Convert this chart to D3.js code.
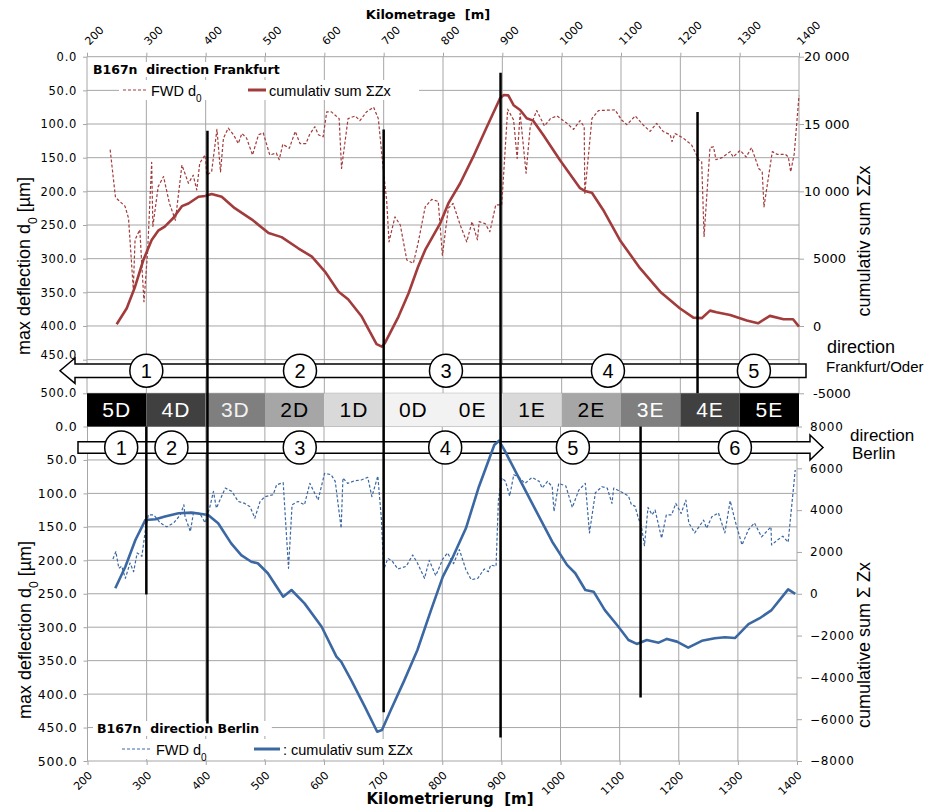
<!DOCTYPE html>
<html>
<head>
<meta charset="utf-8">
<script src="https://cdn.jsdelivr.net/npm/d3@7"></script>
<style>
body { margin: 0; background: #fff; }
text { font-family: "Liberation Sans", Arial, sans-serif; white-space: pre; }
.tick-lbl { font-family: "DejaVu Sans", sans-serif; }
.bold { font-family: "DejaVu Sans", sans-serif; font-weight: bold; }
</style>
</head>
<body>
<svg id="chart" width="939" height="808"></svg>
<script>
// ---- data ----
const kmTicks = d3.range(200, 1401, 100);
const deflTicks = d3.range(0, 501, 50);
const cumTicksFrankfurt = d3.range(-5000, 20001, 5000);
const cumTicksBerlin = d3.range(-8000, 8001, 2000);

const zones = ["5D","4D","3D","2D","1D","0D","0E","1E","2E","3E","4E","5E"];
const zoneStart = [200,300,400,500,600,700,800,900,1000,1100,1200,1300];
const zoneFill = ["#000","#404040","#7f7f7f","#a6a6a6","#d9d9d9","#f2f2f2","#f2f2f2","#d9d9d9","#a6a6a6","#7f7f7f","#404040","#000"];
const zoneText = ["#fff","#fff","#f2f2f2","#000","#000","#000","#000","#000","#000","#fff","#fff","#fff"];

// homogeneous sections (circle numbers at km)
const sectionsFrankfurt = [[1,300],[2,559],[3,805],[4,1078],[5,1324]];
const sectionsBerlin = [[1,257],[2,342],[3,559],[4,805],[5,1021],[6,1295]];

// section boundaries: km, top end (d0 in upper chart or null), bottom end (d0 in lower chart or null)
const boundaries = [[403,110,444],[700,108,427],[897,24,465],[1229,82,null],[300,null,251],[1133,null,405]];

// upper chart: direction Frankfurt
const fwdFrankfurt = [[239,138],[248,209],[264,222],[270,240],[278,345],[281,272],[289,257],[296,364],[302,292],[309,157],[311,252],[320,193],[329,178],[339,218],[349,243],[360,161],[371,188],[379,176],[385,198],[390,158],[399,146],[402,176],[410,171],[419,108],[425,171],[430,121],[438,106],[447,116],[455,129],[461,114],[469,121],[479,146],[489,116],[497,113],[508,146],[519,143],[524,153],[530,130],[541,136],[551,111],[559,129],[569,129],[575,116],[584,104],[590,116],[598,119],[604,82],[612,82],[625,92],[629,166],[640,92],[652,88],[660,95],[671,82],[683,75],[691,92],[700,173],[705,213],[709,275],[719,238],[728,250],[739,302],[750,307],[758,277],[770,223],[781,212],[792,215],[799,295],[809,225],[817,218],[829,250],[840,275],[849,245],[858,272],[861,245],[871,248],[879,260],[889,220],[899,220],[909,78],[919,94],[925,151],[930,84],[940,173],[947,104],[958,80],[971,103],[981,92],[992,88],[1009,99],[1020,108],[1031,95],[1038,104],[1039,203],[1051,92],[1062,80],[1090,79],[1101,94],[1110,101],[1124,88],[1137,101],[1149,111],[1160,99],[1171,111],[1183,116],[1186,126],[1191,114],[1205,121],[1219,131],[1231,153],[1236,156],[1240,267],[1250,135],[1256,134],[1260,153],[1270,150],[1284,141],[1289,149],[1301,139],[1311,149],[1320,135],[1332,166],[1338,171],[1341,223],[1355,141],[1363,145],[1377,145],[1382,149],[1386,171],[1392,144],[1400,58]];
const cumFrankfurt = [[250,130],[267,1320],[281,2920],[295,4900],[309,6390],[320,7080],[331,7380],[345,8000],[360,8900],[371,9100],[388,9600],[399,9650],[410,9800],[427,9600],[449,8750],[478,7900],[506,6900],[528,6600],[556,5770],[579,5150],[601,4040],[624,2550],[640,1990],[663,700],[688,-1350],[697,-1530],[702,-1280],[725,700],[742,2430],[758,4400],[770,5650],[795,7600],[809,9100],[829,10600],[851,12575],[874,14800],[896,16900],[902,17150],[910,17130],[919,16400],[930,16040],[941,15430],[952,15250],[969,14190],[997,12330],[1031,10230],[1039,10030],[1051,9900],[1070,8620],[1098,6390],[1132,4290],[1166,2550],[1199,1320],[1222,620],[1236,580],[1250,1140],[1261,1020],[1284,820],[1312,400],[1331,200],[1351,750],[1374,500],[1390,500],[1400,-50]];

// lower chart: direction Berlin
const fwdBerlin = [[243,198],[248,187],[253,212],[258,209],[264,227],[272,204],[278,217],[284,189],[292,194],[298,154],[303,132],[312,132],[323,144],[334,150],[346,144],[357,132],[363,117],[365,135],[374,157],[379,130],[390,130],[399,144],[407,120],[413,97],[418,122],[433,92],[444,97],[455,112],[466,115],[475,120],[483,137],[492,112],[500,105],[514,102],[520,87],[531,84],[540,212],[546,117],[556,112],[567,117],[576,85],[590,110],[601,70],[612,72],[619,82],[629,152],[632,77],[640,85],[652,81],[663,80],[674,76],[681,105],[691,74],[697,137],[701,214],[708,197],[716,202],[725,213],[739,209],[750,192],[758,204],[770,227],[778,200],[789,223],[801,198],[809,189],[819,205],[829,184],[840,214],[849,229],[860,227],[871,213],[878,217],[882,207],[891,209],[895,110],[901,77],[907,82],[914,104],[921,72],[930,76],[940,85],[952,76],[964,82],[969,92],[978,82],[986,90],[989,127],[997,85],[1009,89],[1020,121],[1031,95],[1042,85],[1049,159],[1059,99],[1070,90],[1079,92],[1087,115],[1090,92],[1101,97],[1115,104],[1120,117],[1126,119],[1131,135],[1137,150],[1142,178],[1148,121],[1155,132],[1160,125],[1171,167],[1179,132],[1188,132],[1195,115],[1204,130],[1212,110],[1217,144],[1227,159],[1242,140],[1247,152],[1256,135],[1267,129],[1278,159],[1287,111],[1295,140],[1307,177],[1318,154],[1328,144],[1340,165],[1356,150],[1357,177],[1368,169],[1376,164],[1385,173],[1397,65]];
const cumBerlin = [[247,260],[264,1290],[281,2570],[298,3530],[315,3560],[331,3690],[354,3850],[376,3880],[393,3815],[404,3770],[421,3370],[443,2410],[460,1850],[477,1530],[488,1460],[505,980],[531,-140],[545,180],[567,-460],[596,-1580],[621,-3010],[629,-3250],[646,-4130],[669,-5400],[690,-6600],[698,-6520],[713,-5560],[736,-4130],[758,-2690],[781,-780],[801,820],[817,1700],[840,3130],[862,5120],[888,7115],[896,7320],[905,6880],[930,5520],[958,4000],[986,2490],[1011,1380],[1025,980],[1042,180],[1056,100],[1075,-780],[1098,-1580],[1115,-2210],[1129,-2400],[1146,-2210],[1166,-2340],[1180,-2160],[1197,-2290],[1216,-2580],[1239,-2250],[1261,-2130],[1278,-2080],[1295,-2120],[1318,-1450],[1337,-1170],[1357,-780],[1385,210],[1397,-10]];

// ---- layout ----
const red = "#a23b3b", blue = "#3b68a3", grid = "#a6a6a6";

let svg = d3.select("#chart");
svg.append("rect").attr("width", 939).attr("height", 808).attr("fill", "#fff");

let xTop = d3.scaleLinear().domain([200, 1400]).range([87, 799]);
let yTop = d3.scaleLinear().domain([0, 500]).range([56.7, 393.3]);
let yTopR = d3.scaleLinear().domain([-5000, 20000]).range([393.3, 56.7]);
let xBot = d3.scaleLinear().domain([200, 1400]).range([87.5, 797]);
let yBot = d3.scaleLinear().domain([0, 500]).range([426.5, 761]);
let yBotR = d3.scaleLinear().domain([-8000, 8000]).range([761, 426.5]);

function drawGrid(x, y) {
    let g = svg.append("g").attr("stroke", grid).attr("stroke-width", 1);
    g.selectAll("line.h").data(deflTicks).enter().append("line")
        .attr("x1", x(200)).attr("x2", x(1400)).attr("y1", d => y(d)).attr("y2", d => y(d));
    g.selectAll("line.v").data(kmTicks).enter().append("line")
        .attr("x1", d => x(d)).attr("x2", d => x(d)).attr("y1", y(0)).attr("y2", y(500));
}
drawGrid(xTop, yTop);
drawGrid(xBot, yBot);

function styleAxis(g) {
    g.select(".domain").remove();
    g.selectAll(".tick line").attr("stroke", grid);
    g.selectAll(".tick text").attr("class", "tick-lbl").attr("fill", "#000");
}

// upper axes
svg.append("g").attr("transform", "translate(" + xTop(200) + ",0)")
    .call(d3.axisLeft(yTop).tickValues(deflTicks).tickSize(4).tickPadding(6).tickFormat(d3.format(".1f")))
    .call(styleAxis).selectAll("text").style("font-size", "11.5px").style("letter-spacing", "0.7px")
    .attr("y", d => d === 450 ? -5 : 0);
svg.append("g").attr("transform", "translate(" + xTop(1400) + ",0)")
    .call(d3.axisRight(yTopR).tickValues(cumTicksFrankfurt).tickSize(5).tickPadding(5)
        .tickFormat(v => Math.abs(v) >= 10000 ? d3.format(",")(v).replace(",", " ") : String(v)))
    .call(styleAxis).selectAll("text").style("font-size", "13px")
    .attr("x", function(d) { return Math.abs(d) >= 10000 ? 5 : 14; }).attr("text-anchor", "start");
let topAx = svg.append("g").attr("transform", "translate(0," + yTop(0) + ")")
    .call(d3.axisTop(xTop).tickValues(kmTicks).tickSize(4).tickFormat(d3.format("d"))).call(styleAxis);
topAx.selectAll("text").attr("text-anchor", "start").attr("x", 0).attr("y", 0).attr("dy", 0)
    .attr("transform", "translate(2,-11) rotate(-45)").style("font-size", "11px");

// lower axes
svg.append("g").attr("transform", "translate(" + xBot(200) + ",0)")
    .call(d3.axisLeft(yBot).tickValues(deflTicks).tickSize(4).tickPadding(6).tickFormat(d3.format(".1f")))
    .call(styleAxis).selectAll("text").style("font-size", "12.5px").style("letter-spacing", "0.8px");
svg.append("g").attr("transform", "translate(" + xBot(1400) + ",0)")
    .call(d3.axisRight(yBotR).tickValues(cumTicksBerlin).tickSize(5).tickPadding(8).tickFormat(d3.format("d")))
    .call(styleAxis).selectAll("text").style("font-size", "12px").style("letter-spacing", "0.8px");
let botAx = svg.append("g").attr("transform", "translate(0," + yBot(500) + ")")
    .call(d3.axisBottom(xBot).tickValues(kmTicks).tickSize(4).tickFormat(d3.format("d"))).call(styleAxis);
botAx.selectAll("text").attr("text-anchor", "end").attr("x", 0).attr("y", 0).attr("dy", 0)
    .attr("transform", "translate(5,15) rotate(-45)").style("font-size", "11px");

// axis titles
svg.append("text").attr("class", "bold").attr("x", 428).attr("y", 19).attr("text-anchor", "middle")
    .style("font-size", "13px").text("Kilometrage  [m]");
svg.append("text").attr("class", "bold").attr("x", 450).attr("y", 804).attr("text-anchor", "middle")
    .style("font-size", "15px").text("Kilometrierung  [m]");

function yTitle(x, y, main, sub, tail) {
    let t = svg.append("text").attr("transform", "translate(" + x + "," + y + ") rotate(-90)")
        .attr("text-anchor", "middle").style("font-size", "18px");
    t.append("tspan").text(main);
    if (sub) t.append("tspan").attr("baseline-shift", "sub").style("font-size", "12px").text(sub);
    t.append("tspan").text(tail);
}
yTitle(30, 266, "max deflection d", "0", " [µm]");
yTitle(31, 630, "max deflection d", "0", " [µm]");
yTitle(870, 241, "cumulativ sum ΣZx", null, "");
yTitle(870, 645, "cumulative sum Σ Zx", null, "");

// legends
function legend(title, tx, ty, ly, color, dashX, solidX, solidLabel) {
    svg.append("rect").attr("x", tx - 4).attr("y", ty - 12).attr("width", title.length * 7.6 + 4).attr("height", 15).attr("fill", "#fff");
    svg.append("rect").attr("x", dashX[0] - 4).attr("y", ly - 10).attr("width", 300).attr("height", 20).attr("fill", "#fff");
    svg.append("text").attr("class", "bold").attr("x", tx).attr("y", ty).style("font-size", "12.5px").text(title);
    svg.append("line").attr("x1", dashX[0]).attr("x2", dashX[1]).attr("y1", ly).attr("y2", ly)
        .attr("stroke", color).attr("stroke-width", 1.2).attr("stroke-dasharray", "3,2");
    let t = svg.append("text").attr("x", dashX[1] + 4).attr("y", ly + 6).style("font-size", "14.5px");
    t.append("tspan").text("FWD d");
    t.append("tspan").attr("baseline-shift", "sub").style("font-size", "10px").text("0");
    svg.append("line").attr("x1", solidX[0]).attr("x2", solidX[1]).attr("y1", ly).attr("y2", ly)
        .attr("stroke", color).attr("stroke-width", 3);
    svg.append("text").attr("x", solidX[1] + 3).attr("y", ly + 6).style("font-size", "14.5px").text(solidLabel);
}
legend("B167n  direction Frankfurt", 93, 74, 90, red, [123, 147], [248, 266], "cumulativ sum ΣZx");
legend("B167n  direction Berlin", 97, 733, 749, blue, [122, 152], [254, 280], ": cumulativ sum ΣZx");

// zone band
let band = svg.append("g");
band.selectAll("rect").data(zones).enter().append("rect")
    .attr("x", (d, i) => xTop(zoneStart[i])).attr("width", xTop(300) - xTop(200))
    .attr("y", yTop(500)).attr("height", yBot(0) - yTop(500)).attr("fill", (d, i) => zoneFill[i]);
band.selectAll("text").data(zones).enter().append("text")
    .attr("x", (d, i) => xTop(zoneStart[i] + 50)).attr("y", (yTop(500) + yBot(0)) / 2 + 7.5)
    .attr("text-anchor", "middle").attr("fill", (d, i) => zoneText[i])
    .style("font-size", "21px").style("letter-spacing", "1px").text(d => d);

// direction arrows
svg.append("path").attr("d", "M806,364 L75,364 L75,358 L60,370.7 L75,383.4 L75,377.4 L806,377.4 Z")
    .attr("fill", "#fff").attr("stroke", "#000").attr("stroke-width", 1.5);
svg.append("path").attr("d", "M78,441.7 L810,441.7 L810,435 L823,447.5 L810,460 L810,453.3 L78,453.3 Z")
    .attr("fill", "#fff").attr("stroke", "#000").attr("stroke-width", 1.5);

function sectionCircles(data, x, cy) {
    let g = svg.append("g");
    g.selectAll("circle").data(data).enter().append("circle")
        .attr("cx", d => x(d[1])).attr("cy", cy).attr("r", 16.5)
        .attr("fill", "#fff").attr("stroke", "#000").attr("stroke-width", 1.5);
    g.selectAll("text").data(data).enter().append("text")
        .attr("x", d => x(d[1])).attr("y", cy + 7).attr("text-anchor", "middle")
        .style("font-size", "20px").text(d => d[0]);
}
sectionCircles(sectionsFrankfurt, xTop, 370.7);
sectionCircles(sectionsBerlin, xBot, 447.5);

svg.append("text").attr("x", 827).attr("y", 353).style("font-size", "18px").text("direction");
svg.append("text").attr("x", 826).attr("y", 372).style("font-size", "15px").text("Frankfurt/Oder");
svg.append("text").attr("x", 850).attr("y", 441).style("font-size", "17px").text("direction");
svg.append("text").attr("x", 852).attr("y", 459).style("font-size", "17px").text("Berlin");

// series
function series(data, x, y, color, dashed) {
    svg.append("path").datum(data)
        .attr("d", d3.line().x(d => x(d[0])).y(d => y(d[1])))
        .attr("fill", "none").attr("stroke", color)
        .attr("stroke-width", dashed ? 1.2 : 2.6)
        .attr("stroke-dasharray", dashed ? "3,2" : null)
        .attr("stroke-linejoin", "round");
}
series(fwdFrankfurt, xTop, yTop, red, true);
series(cumFrankfurt, xTop, yTopR, red, false);
series(fwdBerlin, xBot, yBot, blue, true);
series(cumBerlin, xBot, yBotR, blue, false);

// section boundary lines
svg.append("g").selectAll("line").data(boundaries).enter().append("line")
    .attr("x1", d => xTop(d[0])).attr("x2", d => xTop(d[0]))
    .attr("y1", d => d[1] === null ? yBot(0) : yTop(d[1]))
    .attr("y2", d => d[2] === null ? yTop(500) : yBot(d[2]))
    .attr("stroke", "#000").attr("stroke-width", 2.5);
</script>
</body>
</html>
